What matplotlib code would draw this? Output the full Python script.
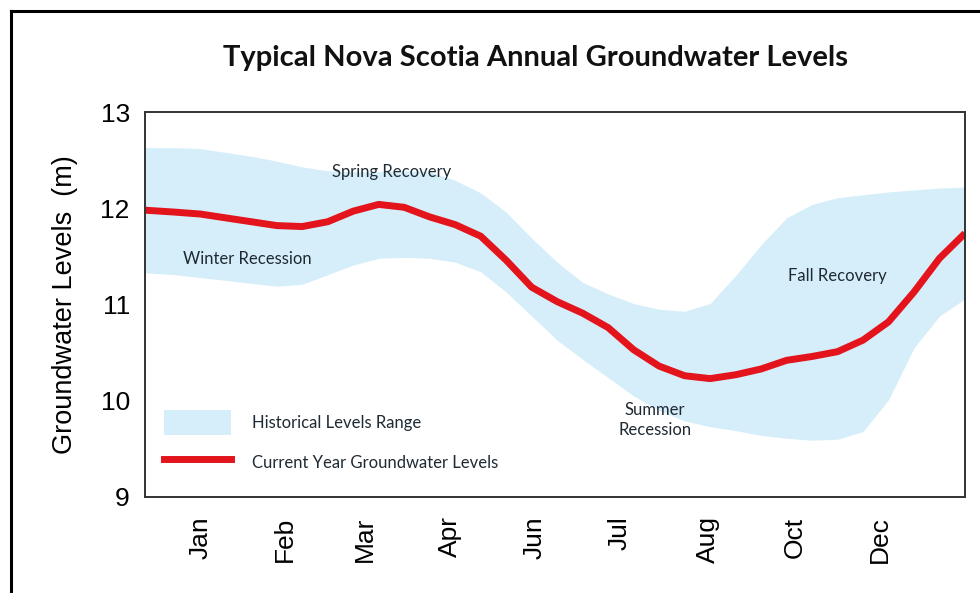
import matplotlib
matplotlib.use('Agg')
import matplotlib.pyplot as plt
from matplotlib.patches import Patch
from matplotlib.lines import Line2D

# x positions in month-tick units (Jan = 0 ... Dec = 8)
x = [-0.65, -0.3, 0.0, 0.3, 0.6, 0.9, 1.2, 1.5, 1.8, 2.1, 2.4, 2.7, 3.0,
     3.3, 3.6, 3.9, 4.2, 4.5, 4.8, 5.1, 5.4, 5.7, 6.0, 6.3, 6.6, 6.9, 7.2,
     7.5, 7.8, 8.1, 8.4, 8.7, 9.0]

current = [11.98, 11.96, 11.94, 11.90, 11.86, 11.82, 11.81, 11.86, 11.97,
           12.04, 12.01, 11.91, 11.83, 11.71, 11.46, 11.18, 11.03, 10.91,
           10.76, 10.53, 10.36, 10.26, 10.23, 10.27, 10.33, 10.42, 10.46,
           10.51, 10.63, 10.82, 11.13, 11.48, 11.74]

hist_high = [12.63, 12.63, 12.62, 12.58, 12.54, 12.49, 12.43, 12.39, 12.38,
             12.38, 12.39, 12.38, 12.29, 12.16, 11.96, 11.69, 11.44, 11.23,
             11.11, 11.01, 10.95, 10.93, 11.01, 11.30, 11.62, 11.90, 12.04,
             12.11, 12.14, 12.17, 12.19, 12.21, 12.22]

hist_low = [11.33, 11.31, 11.28, 11.25, 11.22, 11.19, 11.21, 11.31, 11.41,
            11.48, 11.49, 11.48, 11.44, 11.34, 11.13, 10.88, 10.63, 10.43,
            10.24, 10.05, 9.90, 9.79, 9.73, 9.69, 9.64, 9.61, 9.59, 9.60,
            9.68, 10.01, 10.55, 10.88, 11.06]

months = ['Jan', 'Feb', 'Mar', 'Apr', 'Jun', 'Jul', 'Aug', 'Oct', 'Dec']
month_pos = [0, 1, 1.94, 2.94, 3.94, 4.94, 5.98, 7.0, 8.0]

band_color = '#d5eefa'
red = '#e3141b'
txt = '#1f2a33'

fig = plt.figure(figsize=(9.8, 5.93), dpi=100)
ax = fig.add_axes([0.148, 0.1619, 0.8367, 0.6492])

ax.fill_between(x, hist_low, hist_high, color=band_color, lw=0)
ax.plot(x, current, color=red, lw=5, solid_capstyle='butt', solid_joinstyle='round')

ax.set_xlim(-0.65, 9.0)
ax.set_ylim(9, 13)
ax.set_yticks([9, 10, 11, 12, 13])
ax.set_xticks(month_pos)
ax.set_xticklabels(months, rotation=90, fontsize=19, family='Liberation Sans')
ax.tick_params(axis='x', length=0, pad=14)
ax.tick_params(axis='y', length=0, pad=11)
for lab in ax.get_yticklabels():
    lab.set_fontsize(19)
    lab.set_family('Liberation Sans')
for s in ax.spines.values():
    s.set_color('#333333')
    s.set_linewidth(1.4)

ax.set_ylabel('Groundwater Levels  (m)', fontsize=19.5, family='Liberation Sans', labelpad=16)

# region labels
ax.text(2.25, 12.38, 'Spring Recovery', ha='center', va='center', fontsize=12, family='Lato', color=txt)
ax.text(0.55, 11.47, 'Winter Recession', ha='center', va='center', fontsize=12, family='Lato', color=txt)
ax.text(7.5, 11.30, 'Fall Recovery', ha='center', va='center', fontsize=12, family='Lato', color=txt)
ax.text(5.35, 9.80, 'Summer\nRecession', ha='center', va='center', fontsize=12, family='Lato',
        color=txt, linespacing=1.25)

handles = [Patch(facecolor=band_color, edgecolor='none'),
           Line2D([0], [0], color=red, lw=5)]
labels = ['Historical Levels Range', 'Current Year Groundwater Levels']
leg = ax.legend(handles, labels, loc='lower left', bbox_to_anchor=(0.005, 0.018),
                frameon=False, handlelength=4.0, handleheight=1.9, handletextpad=1.3,
                labelspacing=0.95, prop={'family': 'Lato', 'size': 12})
for t in leg.get_texts():
    t.set_color(txt)

fig.text(0.546, 0.902, 'Typical Nova Scotia Annual Groundwater Levels', ha='center', va='center',
         fontsize=21, fontweight='bold', family='Lato', color='#111111')

# outer frame (only top and left edges visible)
fig.add_artist(Line2D([0.011, 1.0], [0.982, 0.982], color='black', lw=2.2))
fig.add_artist(Line2D([0.011, 0.011], [0.0, 0.982], color='black', lw=2.2))

fig.savefig('out.png', dpi=100)
